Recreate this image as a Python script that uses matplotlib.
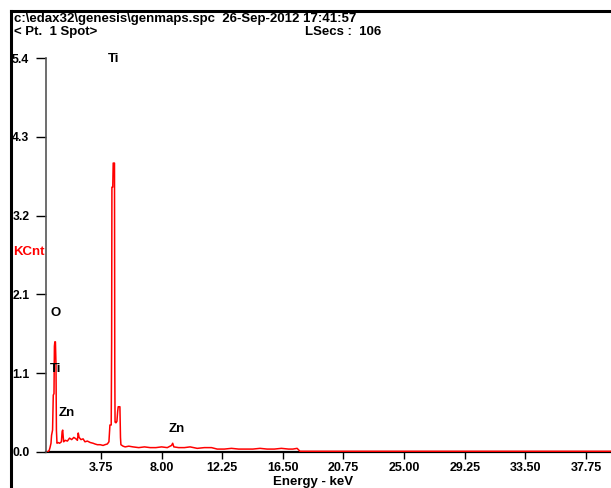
import matplotlib.pyplot as plt
from matplotlib.lines import Line2D

# ---- spectrum (keV, KCnt) ----
energy = [0.00, 0.12, 0.18, 0.25, 0.29, 0.36, 0.41, 0.46, 0.49, 0.52, 0.56, 0.60, 0.63, 0.67,
          0.75, 0.85, 0.98, 1.03, 1.07, 1.11, 1.14, 1.25, 1.40, 1.55, 1.70, 1.85, 2.00, 2.10,
          2.16, 2.22, 2.35, 2.50, 2.63, 2.80, 3.00, 3.20, 3.33, 3.50, 3.70, 3.90, 4.03, 4.20,
          4.31, 4.36, 4.38, 4.47, 4.50, 4.52, 4.58, 4.61, 4.70, 4.72, 4.74, 4.80, 4.87, 4.92,
          4.96, 5.08, 5.12, 5.15, 5.30, 5.45, 5.70, 6.00, 6.40, 6.80, 7.20, 7.60, 8.00, 8.40,
          8.70, 8.78, 8.86, 9.20, 9.60, 10.0, 10.5, 11.0, 11.5, 11.9, 12.4, 12.9, 13.4, 13.9,
          14.4, 14.9, 15.4, 15.9, 16.4, 16.9, 17.2, 17.5, 17.7, 20.0, 25.0, 30.0, 35.0, 40.0]
kcnt = [0.00, 0.02, 0.06, 0.12, 0.23, 0.30, 0.78, 0.80, 1.45, 1.51, 1.51, 1.20, 0.30, 0.12,
        0.13, 0.12, 0.14, 0.28, 0.30, 0.20, 0.14, 0.16, 0.15, 0.19, 0.17, 0.20, 0.18, 0.16,
        0.26, 0.20, 0.17, 0.18, 0.14, 0.15, 0.13, 0.12, 0.11, 0.10, 0.10, 0.09, 0.10, 0.11,
        0.14, 0.30, 0.37, 0.37, 1.50, 3.63, 3.63, 3.96, 3.96, 1.20, 0.41, 0.40, 0.42, 0.55,
        0.62, 0.62, 0.20, 0.10, 0.08, 0.07, 0.08, 0.07, 0.06, 0.07, 0.06, 0.06, 0.07, 0.06,
        0.09, 0.12, 0.07, 0.06, 0.06, 0.07, 0.05, 0.06, 0.06, 0.04, 0.04, 0.05, 0.04, 0.04,
        0.04, 0.05, 0.04, 0.04, 0.05, 0.04, 0.04, 0.05, 0.01, 0.01, 0.01, 0.01, 0.01, 0.01]

xticks = [3.75, 8.00, 12.25, 16.50, 20.75, 25.00, 29.25, 33.50, 37.75]
xticklabels = ['3.75', '8.00', '12.25', '16.50', '20.75', '25.00', '29.25', '33.50', '37.75']
yticks = [0.0, 1.08, 2.16, 3.24, 4.32, 5.4]
yticklabels = ['0.0', '1.1', '2.1', '3.2', '4.3', '5.4']

# element markers (label, keV, KCnt)
elements = ['Ti', 'O', 'Ti', 'Zn', 'Zn']
el_x = [4.25, 0.22, 0.16, 0.75, 8.48]
el_y = [5.38, 1.90, 1.14, 0.53, 0.32]

plt.rcParams['font.family'] = ['Liberation Sans', 'DejaVu Sans']
plt.rcParams['font.weight'] = 'bold'

fig = plt.figure(figsize=(6.11, 4.88), dpi=100)
ax = fig.add_axes([46 / 611, 36 / 488, 1 - 46 / 611, (452 - 58) / 488])

ax.plot(energy, kcnt, color='red', lw=1.1)

ax.set_xlim(-0.1, 39.5)
ax.set_ylim(0, 5.4)
ax.set_xticks(xticks)
ax.set_xticklabels(xticklabels, fontsize=9, fontweight='bold')
ax.set_yticks(yticks)
ax.set_yticklabels(yticklabels, fontsize=8.8, fontweight='bold')
ax.tick_params(axis='x', direction='out', length=5, width=1, pad=2)
ax.tick_params(axis='y', direction='out', length=7, width=1, pad=5)

ax.spines['top'].set_visible(False)
ax.spines['right'].set_visible(False)
ax.spines['left'].set_color('#555555')
ax.spines['left'].set_linewidth(1.2)
ax.spines['bottom'].set_linewidth(1.6)
ax.spines['bottom'].set_zorder(0)

fig.text(313 / 611, 1 - 482 / 488, 'Energy - keV', fontsize=9.5, fontweight='bold',
         ha='center', va='center')
fig.text(13 / 611, 1 - 252 / 488, 'KCnt', color='red', fontsize=9.5, fontweight='bold', va='center')

for name, ex, ey in zip(elements, el_x, el_y):
    ax.text(ex, ey, name, fontsize=9.5, fontweight='bold', va='center', ha='left')

# header
fig.text(14 / 611, 1 - 19 / 488, r'c:\edax32\genesis\genmaps.spc  26-Sep-2012 17:41:57',
         fontsize=9.5, fontweight='bold', va='center')
fig.text(14 / 611, 1 - 32 / 488, '< Pt.  1 Spot>', fontsize=9.5, fontweight='bold', va='center')
fig.text(305 / 611, 1 - 32 / 488, 'LSecs :  106', fontsize=9.5, fontweight='bold', va='center')

# outer frame (left and top edges visible)
fig.add_artist(Line2D([10.5 / 611, 10.5 / 611], [0, 1 - 10.5 / 488], color='black', lw=2.2,
                      transform=fig.transFigure))
fig.add_artist(Line2D([10.5 / 611, 1], [1 - 10.5 / 488, 1 - 10.5 / 488], color='black', lw=2.2,
                      transform=fig.transFigure))

fig.savefig('out.png', dpi=100)
